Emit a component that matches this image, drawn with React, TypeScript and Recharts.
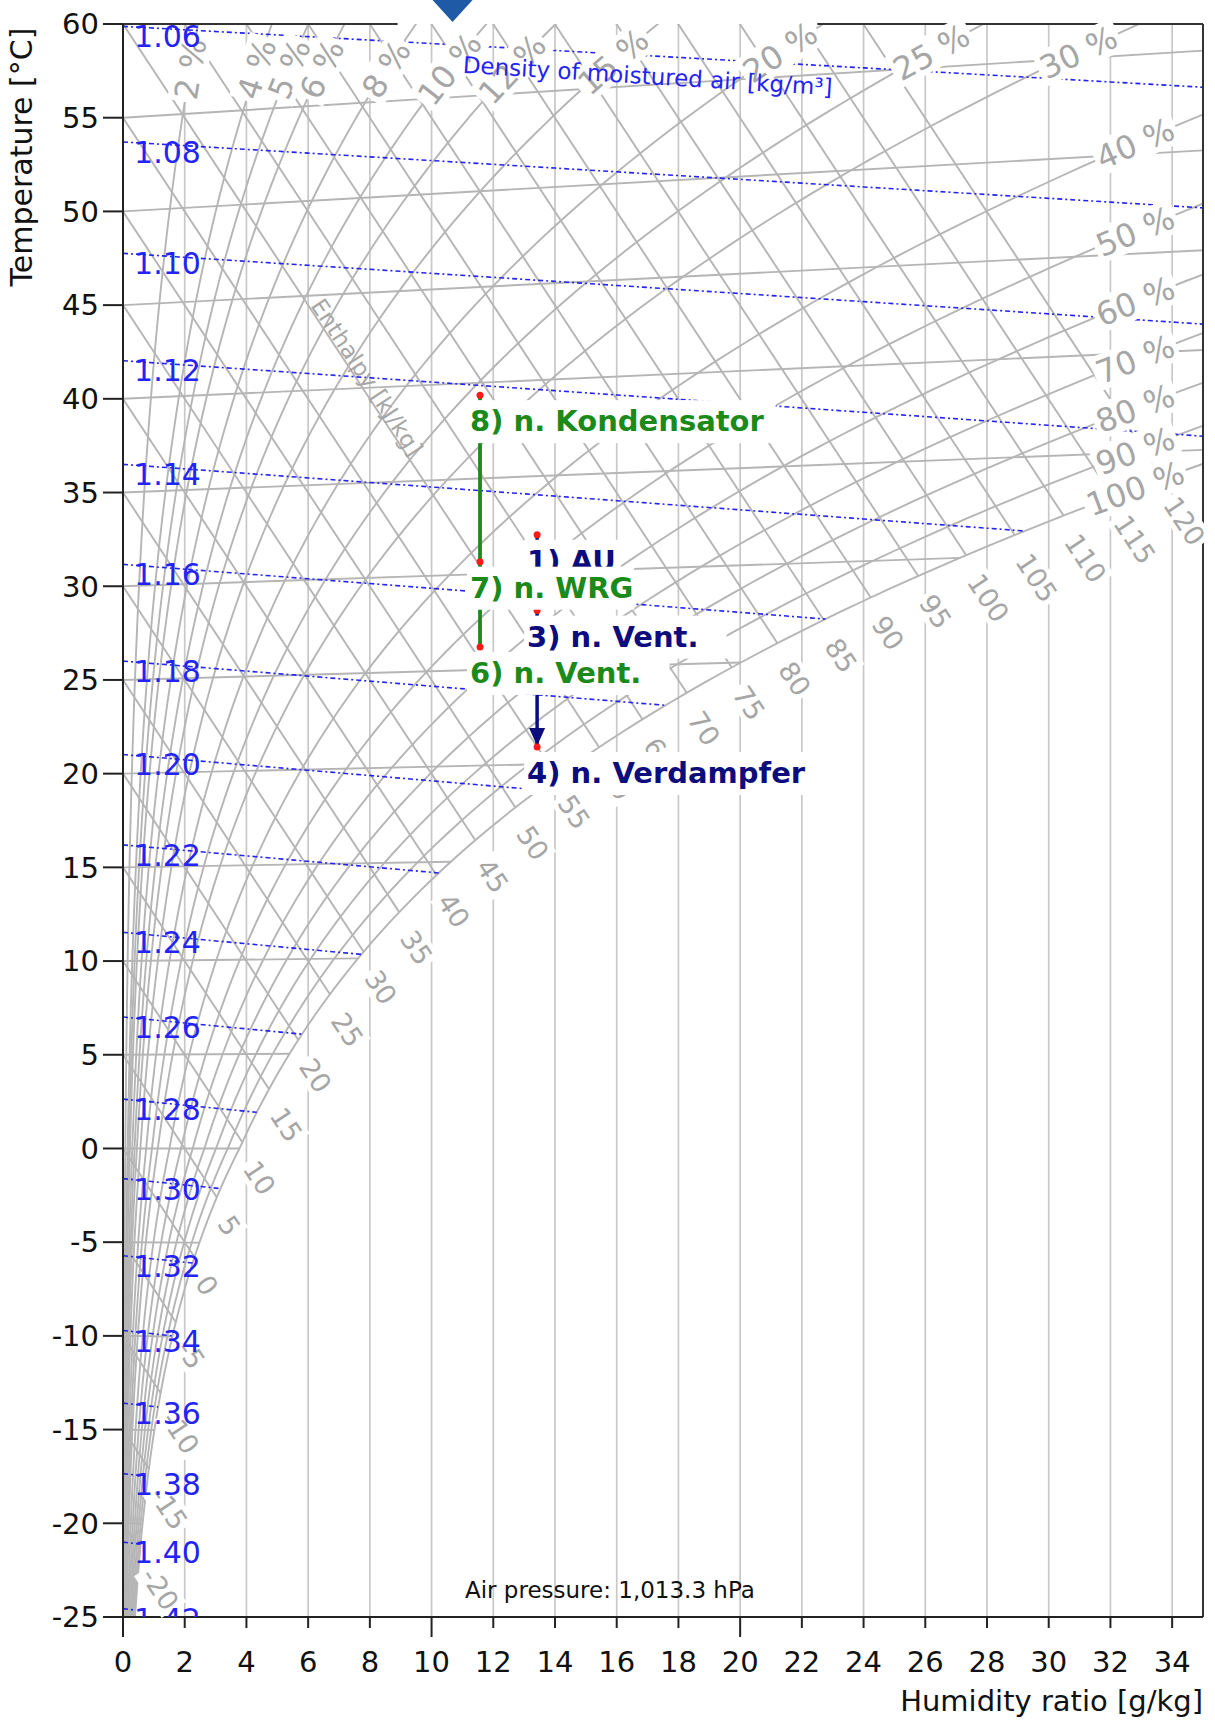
import React from 'react';
import { ComposedChart, Line, XAxis, YAxis, CartesianGrid, ReferenceLine, ReferenceDot } from 'recharts';

const FONT = '"DejaVu Sans", "Liberation Sans", sans-serif';

// ---- values ----
const airPressure = 1013.3; // hPa, from the caption
const humidityTicks = [0, 2, 4, 6, 8, 10, 12, 14, 16, 18, 20, 22, 24, 26, 28, 30, 32, 34];
const longTicks = [0, 10, 20];
const temperatureTicks = [-25, -20, -15, -10, -5, 0, 5, 10, 15, 20, 25, 30, 35, 40, 45, 50, 55, 60];
const isotherms = [-20, -15, -10, -5, 0, 5, 10, 15, 20, 25, 30, 35, 40, 45, 50, 55];
const rhLevels = [2, 4, 5, 6, 8, 10, 12, 15, 20, 25, 30, 40, 50, 60, 70, 80, 90, 100];
const enthalpyLevels = [-20, -15, -10, -5, 0, 5, 10, 15, 20, 25, 30, 35, 40, 45, 50, 55, 60, 65, 70, 75, 80, 85, 90, 95, 100, 105, 110, 115, 120];
const densityLevels = [1.06, 1.08, 1.1, 1.12, 1.14, 1.16, 1.18, 1.2, 1.22, 1.24, 1.26, 1.28, 1.3, 1.32, 1.34, 1.36, 1.38, 1.4, 1.42];

// process states: humidity ratio [g/kg], temperature [°C]; listed in paint order
const stateLabels = ['8) n. Kondensator', '1) AU', '7) n. WRG', '3) n. Vent.', '6) n. Vent.', '4) n. Verdampfer'];
const stateHumidity = [11.57, 13.42, 11.57, 13.42, 11.57, 13.42];
const stateTemperature = [39.35, 31.95, 30.65, 28.0, 26.2, 20.9];
const supplyPath = ['8) n. Kondensator', '7) n. WRG', '6) n. Vent.'];
const outdoorPath = ['1) AU', '3) n. Vent.', '4) n. Verdampfer'];
const topMarkerHumidity = 10.68;
// the top frame line is only drawn on these stretches of the humidity axis
const topFrameParts = [
  [0, 8.9],
  [22.5, 35],
];

const axisXTitle = 'Humidity ratio [g/kg]';
const axisYTitle = 'Temperature [°C]';
const densityCaption = 'Density of moistured air [kg/m³]';
const enthalpyCaption = 'Enthalpy [kJ/kg]';
const pressureCaption = 'Air pressure: 1,013.3 hPa';

// ---- layout ----
const W = 1215;
const H = 1722;
const M = { top: 24, right: 12, bottom: 0, left: 23 };
const Y_AXIS_W = 100;
const X_AXIS_H = 105;
const KX = (W - M.left - M.right - Y_AXIS_W) / 35;
const KY = (H - M.top - M.bottom - X_AXIS_H) / 85;

const GRAY_LINE = '#b5b5b5';
const GRAY_TEXT = '#a6a6a6';
const BLUE = '#2323f5';
const GREEN = '#1b8a1b';
const NAVY = '#0c0c7c';

// ---- h,x-diagram relations ----
const satPressure = (t: number) =>
  t >= 0 ? 6.112 * Math.exp((17.62 * t) / (243.12 + t)) : 6.112 * Math.exp((22.46 * t) / (272.62 + t));
const humidityAt = (rh: number, t: number) => {
  const pv = rh * satPressure(t);
  return (622 * pv) / (airPressure - pv);
};
const skewY = (t: number, x: number) => t + 0.00186 * t * x;
const satEnthalpy = (t: number) => t + (humidityAt(1, t) * (2501 + 1.86 * t)) / 1000;
const densityTemp = (rho: number, x: number) =>
  (airPressure * 100 * (1 + x / 1000)) / (287.05 * rho * (1 + (1.608 * x) / 1000)) - 273.15;

function solve(f: (v: number) => number, lo: number, hi: number) {
  let flo = f(lo);
  for (let i = 0; i < 60; i++) {
    const m = (lo + hi) / 2;
    const fm = f(m);
    if (fm > 0 === flo > 0) {
      lo = m;
      flo = fm;
    } else hi = m;
  }
  return (lo + hi) / 2;
}

type Pt = { x: number; y: number };
const pxAngle = (dx: number, dy: number) => (Math.atan2(-dy * KY, dx * KX) * 180) / Math.PI;

function crossing(pts: Pt[], key: 'x' | 'y', v: number) {
  for (let i = 1; i < pts.length; i++) {
    const a = pts[i - 1];
    const b = pts[i];
    if ((a[key] - v) * (b[key] - v) <= 0 && a[key] !== b[key]) {
      const f = (v - a[key]) / (b[key] - a[key]);
      return { x: a.x + f * (b.x - a.x), y: a.y + f * (b.y - a.y), angle: pxAngle(b.x - a.x, b.y - a.y) };
    }
  }
  return null;
}

const rhCurves: Pt[][] = rhLevels.map((rh) => {
  const pts: Pt[] = [];
  for (let t = -25; t <= 70; t += 0.5) {
    const x = humidityAt(rh / 100, t);
    const y = skewY(t, x);
    pts.push({ x, y });
    if (y > 60.5 || x > 35.5) break;
  }
  return pts;
});

const isoLines: Pt[][] = isotherms.map((t) => {
  const xe = Math.min(humidityAt(1, t), 36);
  return [
    { x: 0, y: t },
    { x: xe, y: skewY(t, xe) },
  ];
});

const enthalpySat = enthalpyLevels.map((h) => {
  const t = solve((tt) => satEnthalpy(tt) - h, -40, 70);
  const x = humidityAt(1, t);
  return { x, y: h - 2.501 * x };
});
const enthalpyLines: Pt[][] = enthalpyLevels.map((h, i) => {
  const xe = Math.min(enthalpySat[i].x, 36);
  return [
    { x: 0, y: h },
    { x: xe, y: h - 2.501 * xe },
  ];
});

const densityLines: Pt[][] = densityLevels.map((rho) => {
  const g = (x: number) => humidityAt(1, densityTemp(rho, x)) - x;
  const xe = g(40) > 0 ? 40 : solve(g, 0, 40);
  const pts: Pt[] = [];
  for (let x = 0; x < xe; x += 2) pts.push({ x, y: skewY(densityTemp(rho, x), x) });
  pts.push({ x: xe, y: skewY(densityTemp(rho, xe), xe) });
  return pts;
});

// upper labels sit near the top edge, the others near the right edge
const upperLabelY = (rh: number) => (rh <= 12 ? 57.6 : rh <= 15 ? 58.0 : 58.5);
const rhLabelPos = rhLevels.map((rh, i) =>
  rh <= 30 ? crossing(rhCurves[i], 'y', upperLabelY(rh)) : crossing(rhCurves[i], 'x', 32.8)
);
const H_ANGLE = (Math.atan2(2.501 * KY, KX) * 180) / Math.PI;

const statePts: Pt[] = stateLabels.map((_, i) => ({
  x: stateHumidity[i],
  y: skewY(stateTemperature[i], stateHumidity[i]),
}));
const pathPts = (names: string[]) => names.map((n) => statePts[stateLabels.indexOf(n)]);

// ---- shapes ----
const charW = (c: string) =>
  '0123456789'.includes(c) ? 0.636 : c === '%' ? 0.95 : ' .,'.includes(c) ? 0.318 : c === '-' ? 0.361 : 0.62;
const textW = (s: string, size: number) => size * s.split('').reduce((a, c) => a + charW(c), 0);

function tag(text: string, angle: number, size: number, color: string, anchor: 'start' | 'middle', ox: number, oy: number) {
  return (p: any) => {
    const w = textW(text, size);
    const left = anchor === 'start' ? ox : ox - w / 2;
    return (
      <g transform={`translate(${p.cx},${p.cy}) rotate(${angle})`}>
        <rect x={left - 3} y={oy - size * 0.55} width={w + 6} height={size * 1.1} fill="#fff" />
        <text x={ox} y={oy} dy="0.36em" textAnchor={anchor} fontSize={size} fill={color} fontFamily={FONT}>
          {text}
        </text>
      </g>
    );
  };
}

function stateTag(text: string, color: string) {
  return (p: any) => {
    const size = 29;
    const w = text.length * size * 0.61;
    return (
      <g>
        <rect x={p.cx - 13} y={p.cy + 5} width={w + 8} height={43} fill="#fff" />
        <text x={p.cx - 10} y={p.cy + 36} fontSize={size} fontWeight="bold" fill={color} fontFamily={FONT}>
          {text}
        </text>
      </g>
    );
  };
}

const XTick = (p: any) => {
  const v = p.payload.value;
  const len = longTicks.includes(v) ? 20 : 11;
  return (
    <g>
      <line x1={p.x} x2={p.x} y1={p.y} y2={p.y + len} stroke="#222" strokeWidth={2} />
      <text x={p.x} y={p.y + 55} textAnchor="middle" fontSize={29} fill="#111" fontFamily={FONT}>
        {v}
      </text>
    </g>
  );
};

const lineProps = { dataKey: 'y', type: 'linear' as const, dot: false, activeDot: false, isAnimationActive: false };

export default function App() {
  return (
    <div style={{ position: 'absolute', left: 0, top: 0, background: '#fff' }}>
      <ComposedChart width={W} height={H} margin={M} style={{ fontFamily: FONT }}>
        <CartesianGrid horizontal={false} stroke="#c8c8c8" strokeWidth={1.7} />
        <XAxis
          type="number"
          dataKey="x"
          domain={[0, 35]}
          ticks={humidityTicks}
          interval={0}
          allowDataOverflow
          height={X_AXIS_H}
          tickSize={0}
          tickMargin={0}
          tickLine={false}
          axisLine={{ stroke: '#222', strokeWidth: 2 }}
          tick={(p: any) => <XTick {...p} />}
        />
        <YAxis
          type="number"
          domain={[-25, 60]}
          ticks={temperatureTicks}
          interval={0}
          allowDataOverflow
          width={Y_AXIS_W}
          tickSize={20}
          tickMargin={4}
          tickLine={{ stroke: '#222', strokeWidth: 2 }}
          axisLine={{ stroke: '#222', strokeWidth: 2 }}
          tick={{ fontSize: 29, fill: '#111', fontFamily: FONT }}
        />

        {isoLines.map((pts, i) => (
          <Line key={'iso' + i} data={pts} {...lineProps} stroke={GRAY_LINE} strokeWidth={1.9} />
        ))}
        {enthalpyLines.map((pts, i) => (
          <Line key={'h' + i} data={pts} {...lineProps} stroke={GRAY_LINE} strokeWidth={1.9} />
        ))}
        {rhCurves.map((pts, i) => (
          <Line key={'rh' + i} data={pts} {...lineProps} stroke={GRAY_LINE} strokeWidth={1.9} />
        ))}
        {densityLines.map((pts, i) => (
          <Line key={'rho' + i} data={pts} {...lineProps} stroke={BLUE} strokeWidth={1.6} strokeDasharray="5 3 2 3" />
        ))}

        {topFrameParts.map(([a, b]) => (
          <ReferenceLine
            key={'tf' + a}
            segment={[
              { x: a, y: 60 },
              { x: b, y: 60 },
            ]}
            stroke="#333"
            strokeWidth={2}
          />
        ))}
        <ReferenceLine x={35} stroke="#333" strokeWidth={2} />

        {enthalpyLevels.map((h, i) => (
          <ReferenceDot
            key={'hl' + h}
            x={enthalpySat[i].x}
            y={enthalpySat[i].y}
            ifOverflow="visible"
            shape={tag(String(h), H_ANGLE, 27, GRAY_TEXT, 'start', 22, 5)}
          />
        ))}

        {rhLevels.map((rh, i) => {
          const l = rhLabelPos[i];
          if (!l) return null;
          return (
            <ReferenceDot
              key={'rhl' + rh}
              x={l.x}
              y={l.y}
              ifOverflow="visible"
              shape={tag(`${rh} %`, l.angle, 32, GRAY_TEXT, 'middle', 0, 0)}
            />
          );
        })}

        {densityLevels.map((rho) => (
          <ReferenceDot
            key={'rl' + rho}
            x={0.36}
            y={skewY(densityTemp(rho, 0.36), 0.36)}
            ifOverflow="hidden"
            shape={(p: any) => (
              <text x={p.cx} y={p.cy + 20} fontSize={30} fill={BLUE} fontFamily={FONT} clipPath={p.clipPath}>
                {rho.toFixed(2)}
              </text>
            )}
          />
        ))}

        <ReferenceDot
          x={11.0}
          y={57.4}
          ifOverflow="visible"
          shape={(p: any) => (
            <text transform={`translate(${p.cx},${p.cy}) rotate(3.5)`} fontSize={23} fill={BLUE} fontFamily={FONT}>
              {densityCaption}
            </text>
          )}
        />
        <ReferenceDot
          x={7.91}
          y={41.16}
          ifOverflow="visible"
          shape={(p: any) => (
            <text
              transform={`translate(${p.cx},${p.cy}) rotate(${H_ANGLE})`}
              textAnchor="middle"
              dy="0.36em"
              fontSize={23}
              fill={GRAY_TEXT}
              fontFamily={FONT}
            >
              {enthalpyCaption}
            </text>
          )}
        />
        <ReferenceDot
          x={15.78}
          y={-24.0}
          ifOverflow="visible"
          shape={(p: any) => (
            <text x={p.cx} y={p.cy} textAnchor="middle" fontSize={23} fill="#111" fontFamily={FONT}>
              {pressureCaption}
            </text>
          )}
        />

        <Line data={pathPts(supplyPath)} {...lineProps} stroke={GREEN} strokeWidth={3.8} />
        <Line data={pathPts(outdoorPath)} {...lineProps} stroke={NAVY} strokeWidth={3.5} />
        {outdoorPath.slice(1).map((n) => {
          const p0 = statePts[stateLabels.indexOf(n)];
          return (
            <ReferenceDot
              key={'ar' + n}
              x={p0.x}
              y={p0.y}
              ifOverflow="visible"
              shape={(p: any) => (
                <polygon points={`${p.cx - 8},${p.cy - 19} ${p.cx + 8},${p.cy - 19} ${p.cx},${p.cy - 1}`} fill={NAVY} />
              )}
            />
          );
        })}
        {statePts.map((pt, i) => (
          <ReferenceDot
            key={'sd' + i}
            x={pt.x}
            y={pt.y}
            ifOverflow="visible"
            shape={(p: any) => <circle cx={p.cx} cy={p.cy} r={3.5} fill="#ff1a1a" />}
          />
        ))}
        {statePts.map((pt, i) => (
          <ReferenceDot
            key={'st' + i}
            x={pt.x}
            y={pt.y}
            ifOverflow="visible"
            shape={stateTag(stateLabels[i], supplyPath.includes(stateLabels[i]) ? GREEN : NAVY)}
          />
        ))}

        <ReferenceDot
          x={topMarkerHumidity}
          y={60}
          ifOverflow="visible"
          shape={(p: any) => (
            <polygon points={`${p.cx - 20},${p.cy - 24} ${p.cx + 20},${p.cy - 24} ${p.cx},${p.cy - 2}`} fill="#1f5aa6" />
          )}
        />
        <ReferenceDot
          x={0}
          y={60}
          ifOverflow="visible"
          shape={(p: any) => (
            <text
              transform={`translate(${p.cx - 91},${p.cy + 133}) rotate(-90)`}
              textAnchor="middle"
              fontSize={30}
              fill="#111"
              fontFamily={FONT}
            >
              {axisYTitle}
            </text>
          )}
        />
        <ReferenceDot
          x={35}
          y={-25}
          ifOverflow="visible"
          shape={(p: any) => (
            <text x={p.cx} y={p.cy + 94} textAnchor="end" fontSize={29} fill="#111" fontFamily={FONT}>
              {axisXTitle}
            </text>
          )}
        />
      </ComposedChart>
    </div>
  );
}
